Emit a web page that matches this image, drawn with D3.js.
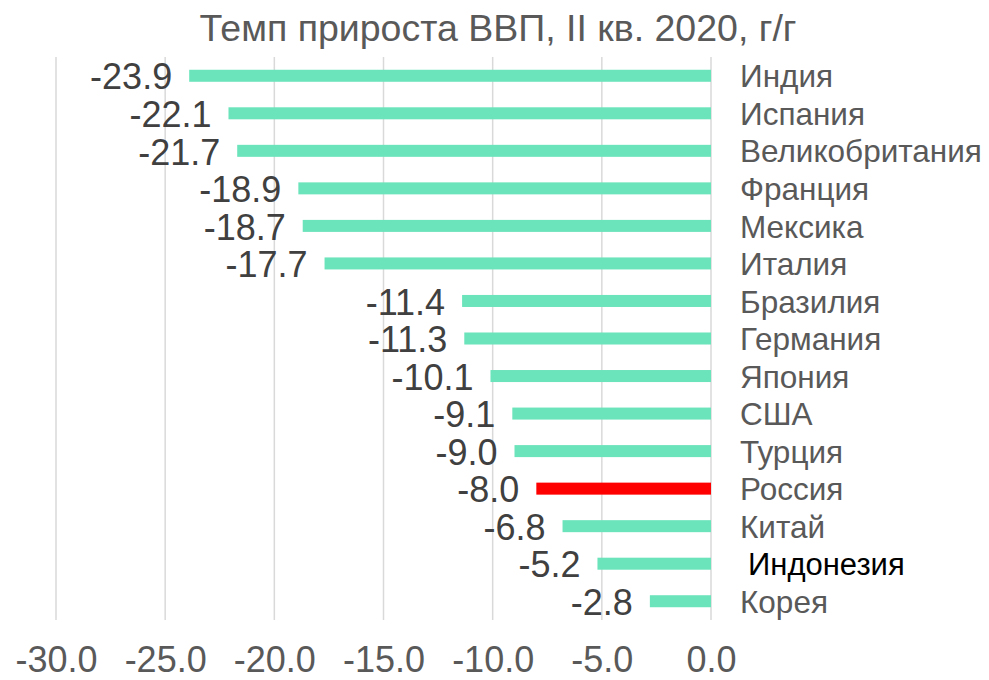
<!DOCTYPE html>
<html>
<head>
<meta charset="utf-8">
<script src="https://cdn.jsdelivr.net/npm/d3@7"></script>
<style>
  body { margin: 0; background: #fff; }
  svg { display: block; font-family: "Liberation Sans", Arial, sans-serif; }
</style>
</head>
<body>
<script>
// Темп прироста ВВП, II кв. 2020, г/г
var countries = ["Индия", "Испания", "Великобритания", "Франция", "Мексика", "Италия",
  "Бразилия", "Германия", "Япония", "США", "Турция", "Россия", "Китай", "Индонезия", "Корея"];
var values = [-23.9, -22.1, -21.7, -18.9, -18.7, -17.7, -11.4, -11.3, -10.1, -9.1, -9.0, -8.0, -6.8, -5.2, -2.8];
var xTicks = [-30, -25, -20, -15, -10, -5, 0];

var data = countries.map(function (c, i) { return { name: c, value: values[i] }; });

// plain hyphen for the minus sign, as in the original
var fmt = d3.formatLocale({ decimal: ".", thousands: "", grouping: [3], currency: ["", ""], minus: "-" }).format(".1f");

var width = 989, height = 680;
var margin = { top: 57, right: 278, bottom: 60, left: 56 };

var x = d3.scaleLinear()
    .domain([-30, 0])
    .range([margin.left, width - margin.right]);

var y = d3.scaleBand()
    .domain(countries)
    .range([margin.top, 620])
    .paddingInner(0.68)
    .paddingOuter(0.34);

var svg = d3.select("body").append("svg")
    .attr("width", width)
    .attr("height", height);

svg.append("text")
    .attr("x", 498)
    .attr("y", 41)
    .attr("text-anchor", "middle")
    .attr("fill", "#595959")
    .style("font-size", "37.5px")
    .text("Темп прироста ВВП, II кв. 2020, г/г");

// gridlines
svg.append("g")
    .selectAll("line")
    .data(xTicks)
    .join("line")
    .attr("x1", function (d) { return x(d); })
    .attr("x2", function (d) { return x(d); })
    .attr("y1", margin.top)
    .attr("y2", 620)
    .attr("stroke", "#d9d9d9")
    .attr("stroke-width", 1.5);

// bars
svg.append("g")
    .selectAll("rect")
    .data(data)
    .join("rect")
    .attr("x", function (d) { return x(d.value); })
    .attr("y", function (d) { return y(d.name); })
    .attr("width", function (d) { return x(0) - x(d.value); })
    .attr("height", y.bandwidth())
    .attr("fill", function (d) { return d.name === "Россия" ? "#ff0000" : "#6ce4bb"; });

// value labels
svg.append("g")
    .selectAll("text")
    .data(data)
    .join("text")
    .attr("x", function (d) { return x(d.value) - 17; })
    .attr("y", function (d) { return y(d.name) + y.bandwidth() / 2; })
    .attr("dy", "0.38em")
    .attr("text-anchor", "end")
    .attr("fill", "#404040")
    .style("font-size", "36px")
    .text(function (d) { return fmt(d.value); });

// category labels
svg.append("g")
    .selectAll("text")
    .data(data)
    .join("text")
    .attr("x", function (d) { return x(0) + (d.name === "Индонезия" ? 37 : 29); })
    .attr("y", function (d) { return y(d.name) + y.bandwidth() / 2; })
    .attr("dy", "0.37em")
    .attr("fill", function (d) { return d.name === "Индонезия" ? "#000" : "#595959"; })
    .style("font-size", function (d) { return d.name === "Индонезия" ? "31px" : "31.5px"; })
    .text(function (d) { return d.name; });

// x axis
var xAxis = d3.axisBottom(x)
    .tickValues(xTicks)
    .tickSize(0)
    .tickPadding(26)
    .tickFormat(fmt);

var gx = svg.append("g")
    .attr("transform", "translate(0,620)")
    .call(xAxis);
gx.select(".domain").remove();
gx.selectAll("text")
    .attr("fill", "#595959")
    .style("font-size", "36px")
    .style("font-family", "'Liberation Sans', Arial, sans-serif");
</script>
</body>
</html>
